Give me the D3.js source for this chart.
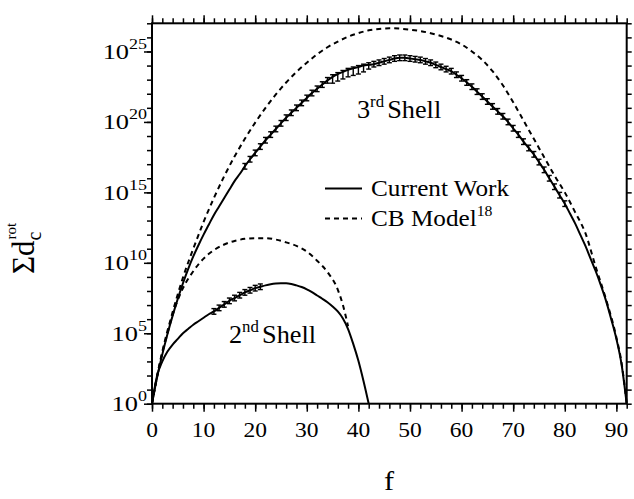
<!DOCTYPE html>
<html>
<head>
<meta charset="utf-8">
<script src="https://cdn.jsdelivr.net/npm/d3@7"></script>
<style>
  body { margin: 0; background: #fff; }
  svg { display: block; }
  text { font-family: "Liberation Serif", "Times New Roman", serif; fill: #000; }
</style>
</head>
<body>
<svg id="chart" width="634" height="499"></svg>
<script>
// ---- data: log10 of the summed rotational degeneracy vs. f ----
const thirdF = d3.range(0, 93);
const thirdCurrent = [
  0, 1.9, 3.5, 4.95, 6.25, 7.45, 8.55, 9.55, 10.45, 11.25,
  12.0, 12.7, 13.4, 14.0, 14.6, 15.2, 15.8, 16.3, 16.85, 17.35,
  17.8, 18.25, 18.7, 19.1, 19.5, 19.9, 20.3, 20.65, 21.0, 21.35,
  21.7, 22.05, 22.35, 22.65, 22.95, 23.2, 23.4, 23.55, 23.7, 23.8,
  23.9, 24.0, 24.05, 24.1, 24.2, 24.3, 24.4, 24.5, 24.55, 24.55,
  24.5, 24.45, 24.4, 24.3, 24.2, 24.05, 23.9, 23.75, 23.6, 23.35,
  23.1, 22.8, 22.5, 22.15, 21.8, 21.45, 21.1, 20.75, 20.4, 20.0,
  19.55, 19.1, 18.6, 18.15, 17.7, 17.15, 16.6, 16.0, 15.4, 14.8,
  14.2, 13.5, 12.8, 12.0, 11.2, 10.3, 9.4, 8.4, 7.3, 6.0,
  4.6, 2.8, 0
];
// error bars on the current-work 3rd shell (decades below / above)
const thirdErrF  = d3.range(18, 81);
const thirdErrLo = [
  0.2, 0.2, 0.2, 0.2, 0.2, 0.2, 0.2, 0.2, 0.2, 0.2,
  0.2, 0.2, 0.2, 0.2, 0.2, 0.2, 0.2, 0.45, 0.5, 0.5,
  0.5, 0.5, 0.5, 0.45, 0.3, 0.2, 0.2, 0.2, 0.2, 0.2,
  0.2, 0.2, 0.2, 0.2, 0.2, 0.2, 0.2, 0.2, 0.2, 0.2,
  0.2, 0.2, 0.2, 0.2, 0.2, 0.2, 0.2, 0.2, 0.2, 0.2,
  0.2, 0.2, 0.2, 0.2, 0.2, 0.2, 0.2, 0.2, 0.2, 0.2,
  0.2, 0.2, 0.2
];
const thirdErrHi = [
  0.2, 0.2, 0.2, 0.2, 0.2, 0.2, 0.2, 0.2, 0.2, 0.2,
  0.2, 0.2, 0.2, 0.2, 0.2, 0.2, 0.2, 0.15, 0.1, 0.1,
  0.1, 0.1, 0.1, 0.1, 0.15, 0.2, 0.2, 0.2, 0.2, 0.2,
  0.2, 0.2, 0.2, 0.2, 0.2, 0.2, 0.2, 0.2, 0.2, 0.2,
  0.2, 0.2, 0.2, 0.2, 0.2, 0.2, 0.2, 0.2, 0.2, 0.2,
  0.2, 0.2, 0.2, 0.2, 0.2, 0.2, 0.2, 0.2, 0.2, 0.2,
  0.2, 0.2, 0.2
];
const thirdCbF = [0, 1, 2, 4, 6, 8, 10, 12, 14, 16, 18, 20, 22, 24, 26, 28, 30, 32, 34, 36, 38, 40, 42, 44, 46,
                  48, 50, 52, 54, 56, 58, 60, 62, 64, 66, 68, 70, 72, 74, 76, 78, 80, 82, 84, 86, 88, 90, 91, 92];
const thirdCb = [0, 2.0, 3.7, 6.5, 8.95, 11.0, 12.9, 14.6, 16.15, 17.55, 18.8, 19.95, 21.0, 21.95, 22.8, 23.55,
                 24.2, 24.8, 25.3, 25.7, 26.05, 26.3, 26.5, 26.6, 26.65, 26.62, 26.55, 26.45, 26.3, 26.1, 25.85,
                 25.5, 25.0, 24.4, 23.6, 22.6, 21.4, 20.1, 18.8, 17.5, 16.2, 15.0, 13.6, 12.1, 9.7, 7.4, 4.7, 2.9, 0];

const secondF = d3.range(0, 43);
const secondCurrent = [
  0, 2.0, 3.0, 3.7, 4.2, 4.6, 5.0, 5.3, 5.6, 5.85,
  6.1, 6.35, 6.55, 6.8, 7.05, 7.3, 7.5, 7.7, 7.9, 8.05,
  8.2, 8.3, 8.4, 8.48, 8.53, 8.55, 8.55, 8.5, 8.4, 8.28,
  8.12, 7.92, 7.68, 7.45, 7.2, 6.9, 6.55, 6.05, 5.3, 4.25,
  3.05, 1.6, 0
];
const secondErrF  = d3.range(12, 22);
const secondErrLo = [0.2, 0.2, 0.2, 0.2, 0.2, 0.2, 0.2, 0.2, 0.2, 0.2];
const secondErrHi = [0.2, 0.2, 0.2, 0.2, 0.2, 0.2, 0.2, 0.2, 0.2, 0.2];
const secondCbF = [0, 1, 2, 3, 4, 6, 8, 10, 12, 14, 16, 18, 20, 22, 24, 26, 28, 30, 32, 34, 36, 37, 38];
const secondCb = [0, 1.95, 3.6, 5.0, 6.3, 8.2, 9.4, 10.3, 10.9, 11.3, 11.55, 11.7, 11.75, 11.75, 11.65, 11.45,
                  11.2, 10.8, 10.15, 9.35, 8.1, 7.0, 5.5];

const xMajor = [0, 10, 20, 30, 40, 50, 60, 70, 80, 90];
const xMinor = d3.range(0, 93, 2);
const yMajorExp = [0, 5, 10, 15, 20, 25];
const yMinorExp = d3.range(0, 28);
const legendLabels = ["Current Work", "CB Model"];

// ---- layout ----
const svg = d3.select("#chart");
const L = 152, R = 626.7, T = 23.3, B = 403.7;
const x = d3.scaleLinear().domain([0, 92]).range([L, R]);
const y = d3.scaleLog().domain([1, 1e27]).range([B, T]);
const stretch = 1.12;

const line = d3.line()
  .x(d => x(d[0]))
  .y(d => y(Math.pow(10, d[1])))
  .curve(d3.curveMonotoneX);

const zip = (a, b) => a.map((v, i) => [v, b[i]]);

function drawCurve(fs, vals, dashed) {
  svg.append("path")
    .datum(zip(fs, vals))
    .attr("d", line)
    .attr("fill", "none")
    .attr("stroke", "#000")
    .attr("stroke-width", 2)
    .attr("stroke-dasharray", dashed ? "5,4" : null);
}

function drawErrors(fs, ef, lo, hi, vals) {
  const g = svg.append("g").attr("stroke", "#000").attr("stroke-width", 1.4);
  ef.forEach((f, i) => {
    const v = vals[fs.indexOf(f)];
    const cx = x(f);
    const y0 = y(Math.pow(10, v - lo[i]));
    const y1 = y(Math.pow(10, v + hi[i]));
    g.append("line").attr("x1", cx).attr("x2", cx).attr("y1", y0).attr("y2", y1);
    g.append("line").attr("x1", cx - 2.5).attr("x2", cx + 2.5).attr("y1", y0).attr("y2", y0);
    g.append("line").attr("x1", cx - 2.5).attr("x2", cx + 2.5).attr("y1", y1).attr("y2", y1);
  });
}

drawCurve(thirdCbF, thirdCb, true);
drawCurve(secondCbF, secondCb, true);
drawCurve(thirdF, thirdCurrent, false);
drawCurve(secondF, secondCurrent, false);
drawErrors(thirdF, thirdErrF, thirdErrLo, thirdErrHi, thirdCurrent);
drawErrors(secondF, secondErrF, secondErrLo, secondErrHi, secondCurrent);

// ---- axes ----
function styleAxis(g) {
  g.select(".domain").remove();
  g.selectAll(".tick line").attr("stroke", "#000").attr("stroke-width", 1.5);
  g.selectAll(".tick text").remove();
}
svg.append("g").attr("transform", `translate(0,${B})`)
  .call(d3.axisBottom(x).tickValues(xMinor).tickSize(5)).call(styleAxis);
svg.append("g").attr("transform", `translate(0,${B})`)
  .call(d3.axisBottom(x).tickValues(xMajor).tickSize(8)).call(styleAxis);
svg.append("g").attr("transform", `translate(0,${T})`)
  .call(d3.axisTop(x).tickValues(xMinor).tickSize(5)).call(styleAxis);
svg.append("g").attr("transform", `translate(0,${T})`)
  .call(d3.axisTop(x).tickValues(xMajor).tickSize(8)).call(styleAxis);
svg.append("g").attr("transform", `translate(${L},0)`)
  .call(d3.axisLeft(y).tickValues(yMinorExp.map(e => Math.pow(10, e))).tickSize(5)).call(styleAxis);
svg.append("g").attr("transform", `translate(${L},0)`)
  .call(d3.axisLeft(y).tickValues(yMajorExp.map(e => Math.pow(10, e))).tickSize(8)).call(styleAxis);
svg.append("g").attr("transform", `translate(${R},0)`)
  .call(d3.axisRight(y).tickValues(yMinorExp.map(e => Math.pow(10, e))).tickSize(5)).call(styleAxis);

svg.append("rect")
  .attr("x", L).attr("y", T).attr("width", R - L).attr("height", B - T)
  .attr("fill", "none").attr("stroke", "#000").attr("stroke-width", 2);

// x tick labels
xMajor.forEach(v => {
  svg.append("g").attr("transform", `translate(${x(v)},437) scale(${stretch},1)`)
    .append("text").attr("text-anchor", "middle").attr("font-size", 21).text(v);
});
// y tick labels: 10^n
yMajorExp.forEach(e => {
  const t = svg.append("g").attr("transform", `translate(147,${y(Math.pow(10, e)) + 7.5}) scale(${stretch + 0.08},1)`)
    .append("text").attr("text-anchor", "end");
  t.append("tspan").attr("font-size", 22).text("10");
  t.append("tspan").attr("font-size", 15).attr("dy", -10).text(e);
});

// axis titles
svg.append("g").attr("transform", `translate(389,490) scale(${stretch},1)`)
  .append("text").attr("text-anchor", "middle").attr("font-size", 27).text("f");

const yt = svg.append("g").attr("transform", "translate(34,274) rotate(-90)");
const main = yt.append("text").attr("x", 0).attr("y", 0).attr("font-size", 31).text("Σd");
const mw = main.node().getComputedTextLength();
yt.append("text").attr("x", mw).attr("y", 7).attr("font-size", 20).text("c");
yt.append("text").attr("x", mw + 1).attr("y", -18).attr("font-size", 15).text("rot");

// legend
const lg = svg.append("g");
[0, 1].forEach(i => {
  const ly = 188.5 + i * 30;
  lg.append("line").attr("x1", 325).attr("x2", 362).attr("y1", ly).attr("y2", ly)
    .attr("stroke", "#000").attr("stroke-width", 2).attr("stroke-dasharray", i ? "5,4" : null);
  const t = lg.append("g").attr("transform", `translate(371,${ly + 7.5}) scale(1.05,1)`)
    .append("text").attr("font-size", 24);
  t.append("tspan").text(legendLabels[i]);
  if (i === 1) t.append("tspan").attr("font-size", 15).attr("dy", -10).text("18");
});

// shell annotations
function shellLabel(px, py, num, suf) {
  const t = svg.append("g").attr("transform", `translate(${px},${py}) scale(1.05,1)`)
    .append("text").attr("font-size", 25);
  t.append("tspan").text(num);
  t.append("tspan").attr("font-size", 16).attr("dy", -11).text(suf);
  t.append("tspan").attr("dy", 11).attr("dx", 3).text("Shell");
}
shellLabel(357, 118, "3", "rd");
shellLabel(229, 343, "2", "nd");
</script>
</body>
</html>
